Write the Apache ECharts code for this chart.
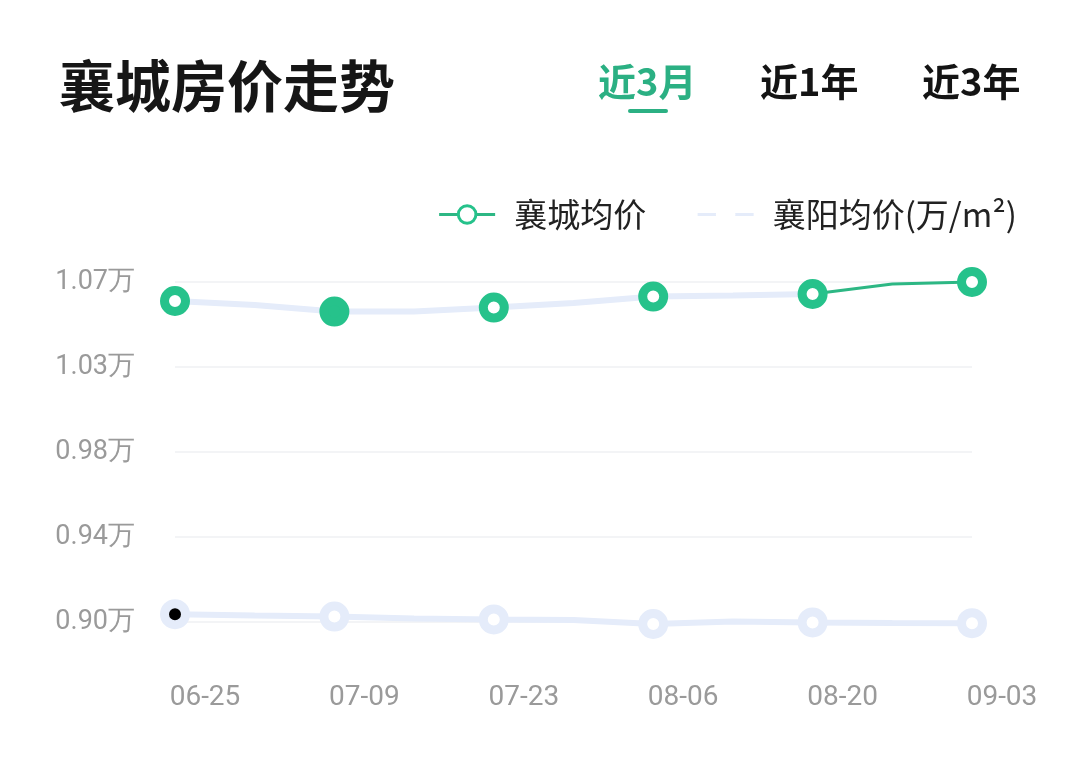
<!DOCTYPE html>
<html><head><meta charset="utf-8">
<script src="https://cdn.jsdelivr.net/npm/echarts@6/dist/echarts.min.js"></script>
<style>html,body{margin:0;padding:0;background:#fff}#c{width:1080px;height:757px}</style>
</head><body><div id="c"></div>
<script>
// ---- data ----
const categories = ['06-25','07-02','07-09','07-16','07-23','07-30','08-06','08-13','08-20','08-27','09-03'];
const xiangchengPrice = [1.0605,1.0585,1.0552,1.0552,1.0572,1.0595,1.0627,1.0632,1.0640,1.0690,1.0700];
const xiangyangPrice  = [0.9039,0.9032,0.9027,0.9018,0.9013,0.9010,0.8990,0.9002,0.8998,0.8995,0.8994];
const yTickLabels = ['0.90万','0.94万','0.98万','1.03万','1.07万'];
const seriesNames = ['襄城均价','襄阳均价(万/m²)'];
const tabs = ['近3月','近1年','近3年'];
const titleText = '襄城房价走势';
const yMin = 0.90, yMax = 1.07;
const highlightIndex = 2;   // filled point
const markedIndex = 0;      // black dot
const paleUntil = 8;        // pale trail covers up to this index

const GREEN = '#26c28b', GREEN_LINE = '#2db784', PALE = '#e5ecfa', TAB_GREEN = '#2bb083';
const FONT = '"Noto Sans CJK SC", "Noto Sans", sans-serif';

const chart = echarts.init(document.getElementById('c'), null, {renderer: 'canvas'});

const greenPts = xiangchengPrice.map((v, i) => {
  const d = {value: v, symbol: i % 2 ? 'none' : 'circle'};
  if (i === highlightIndex) d.itemStyle = {color: GREEN};
  return d;
});
const palePts = xiangyangPrice.map((v, i) => {
  const d = {value: v, symbol: i % 2 ? 'none' : 'circle'};
  if (i === markedIndex) d.itemStyle = {color: '#000'};
  return d;
});
const paleTrail = xiangchengPrice.map((v, i) => i <= paleUntil ? v : null);

chart.setOption({
  animation: false,
  backgroundColor: '#fff',
  graphic: [
    {type: 'text', left: 59, top: 58, style: {text: titleText, font: 'bold 56px ' + FONT, fill: '#161616'}},
    {type: 'text', left: 598, top: 63, style: {text: tabs[0], font: 'bold 38px ' + FONT, fill: TAB_GREEN}},
    {type: 'text', left: 760, top: 63, style: {text: tabs[1], font: 'bold 38px ' + FONT, fill: '#141414'}},
    {type: 'text', left: 922, top: 63, style: {text: tabs[2], font: 'bold 38px ' + FONT, fill: '#141414'}},
    {type: 'rect', left: 628, top: 109, shape: {width: 40, height: 4, r: 2}, style: {fill: TAB_GREEN}}
  ],
  legend: {
    data: seriesNames,
    right: 58, top: 193,
    itemWidth: 56, itemHeight: 22, itemGap: 50,
    textStyle: {fontSize: 33, color: '#222', fontFamily: FONT, padding: [0, 0, 0, 14]},
    itemStyle: {borderWidth: 3},
    lineStyle: {width: 3}
  },
  grid: {left: 175, right: 108, top: 282, bottom: 135, outerBoundsMode: 'none', containLabel: false},
  xAxis: {
    type: 'category', data: categories, boundaryGap: false,
    axisLine: {show: false}, axisTick: {show: false},
    axisLabel: {interval: 1, color: '#9a9a9a', fontSize: 28, fontFamily: 'Roboto', margin: 62, padding: [0, 0, 0, 60]}
  },
  yAxis: [
    {type: 'value', min: yMin, max: yMax, show: false, splitLine: {show: false}},
    {type: 'value', position: 'left', min: 0, max: yTickLabels.length - 1, interval: 1,
     axisLine: {show: false}, axisTick: {show: false},
     axisLabel: {color: '#9a9a9a', fontSize: 27, fontFamily: 'Roboto', margin: 40, formatter: v => yTickLabels[v]},
     splitLine: {lineStyle: {color: '#f3f4f6', width: 2}}}
  ],
  series: [
    {name: seriesNames[0], type: 'line', yAxisIndex: 0, data: xiangchengPrice, symbol: 'circle', showSymbol: false,
     lineStyle: {color: GREEN_LINE, width: 3}, itemStyle: {color: '#fff', borderColor: GREEN}, z: 2, clip: false, silent: true},
    {name: 'trail', type: 'line', yAxisIndex: 0, data: paleTrail, symbol: 'none',
     lineStyle: {color: PALE, width: 6}, z: 2, clip: false, silent: true},
    {name: seriesNames[1], type: 'line', yAxisIndex: 0, data: palePts, symbolSize: 21, showAllSymbol: true,
     lineStyle: {color: PALE, width: 6}, itemStyle: {color: '#fff', borderColor: PALE, borderWidth: 9}, z: 2, clip: false, silent: true},
    {name: seriesNames[0], type: 'line', yAxisIndex: 0, data: greenPts, symbolSize: 21, showAllSymbol: true,
     lineStyle: {width: 0, opacity: 0}, itemStyle: {color: '#fff', borderColor: GREEN, borderWidth: 9}, z: 3, clip: false, silent: true}
  ]
});
</script></body></html>
